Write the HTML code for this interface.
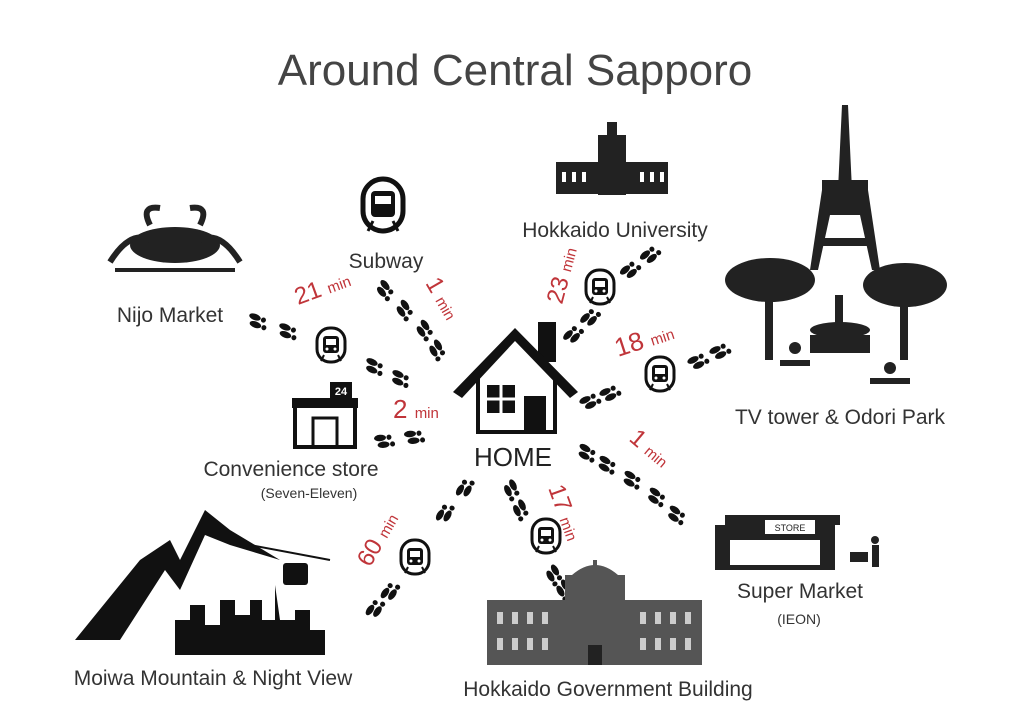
<!DOCTYPE html>
<html><head><meta charset="utf-8"><style>
body{margin:0;background:#fff}
svg text{font-family:"Liberation Sans",sans-serif}
</style></head><body>
<svg width="1024" height="717" viewBox="0 0 1024 717" xmlns="http://www.w3.org/2000/svg">
<defs>
<g id="fp"><ellipse cx="0" cy="0" rx="6" ry="3.2" fill="#111"/><ellipse cx="9" cy="0" rx="2.5" ry="2.6" fill="#111"/><ellipse cx="3" cy="7" rx="6" ry="3.2" fill="#111"/><ellipse cx="12" cy="7" rx="2.5" ry="2.6" fill="#111"/></g>
<g id="rail"><rect x="-14" y="-17" width="28" height="34" rx="13" fill="none" stroke="#111" stroke-width="3"/><rect x="-8" y="-9" width="16" height="17" rx="3" fill="#111"/><rect x="-5" y="-6" width="10" height="6" fill="#fff"/><circle cx="-4" cy="4" r="1.5" fill="#fff"/><circle cx="4" cy="4" r="1.5" fill="#fff"/><path d="M-7 10 L-10 16 M7 10 L10 16" stroke="#111" stroke-width="2"/></g>
</defs>
<text x="515" y="85" font-size="44" fill="#444" text-anchor="middle" font-weight="300">Around Central Sapporo</text>

<!-- house -->
<g>
<rect x="538" y="322" width="18" height="40" fill="#111"/>
<path d="M453 392 L515 328 L578 392 L570 398 L515 341 L462 398 Z" fill="#111"/>
<path d="M478 372 L478 432 L555 432 L555 372" fill="none" stroke="#111" stroke-width="4"/>
<rect x="487" y="385" width="28" height="28" fill="#111"/><path d="M501 385V413M487 399H515" stroke="#fff" stroke-width="3"/>
<rect x="524" y="396" width="22" height="36" fill="#111"/>
</g>
<text x="513" y="466" font-size="26" fill="#222" text-anchor="middle">HOME</text>

<!-- labels -->
<g font-size="21" fill="#333">
<text x="170" y="322" text-anchor="middle">Nijo Market</text>
<text x="386" y="268" text-anchor="middle">Subway</text>
<text x="615" y="237" text-anchor="middle">Hokkaido University</text>
<text x="840" y="424" text-anchor="middle">TV tower &amp; Odori Park</text>
<text x="291" y="476" text-anchor="middle">Convenience store</text>
<text x="800" y="598" text-anchor="middle">Super Market</text>
<text x="213" y="685" text-anchor="middle">Moiwa Mountain &amp; Night View</text>
<text x="608" y="696" text-anchor="middle">Hokkaido Government Building</text>
</g>
<text x="309" y="498" font-size="14" fill="#333" text-anchor="middle">(Seven-Eleven)</text>
<text x="799" y="624" font-size="14" fill="#333" text-anchor="middle">(IEON)</text>

<!-- minutes -->
<g fill="#c0353a">
<text transform="translate(298,305) rotate(-20)" font-size="24">21 <tspan font-size="15">min</tspan></text>
<text transform="translate(425,283) rotate(60)" font-size="24">1 <tspan font-size="15">min</tspan></text>
<text transform="translate(562,305) rotate(-75)" font-size="24">23 <tspan font-size="15">min</tspan></text>
<text transform="translate(618,357) rotate(-18)" font-size="26">18 <tspan font-size="15">min</tspan></text>
<text x="393" y="418" font-size="26">2 <tspan font-size="15">min</tspan></text>
<text transform="translate(628,440) rotate(40)" font-size="24">1 <tspan font-size="15">min</tspan></text>
<text transform="translate(548,488) rotate(70)" font-size="24">17 <tspan font-size="15">min</tspan></text>
<text transform="translate(370,568) rotate(-60)" font-size="24">60 <tspan font-size="15">min</tspan></text>
</g>

<!-- rail icons -->
<use href="#rail" x="331" y="345"/>
<use href="#rail" x="600" y="287"/>
<use href="#rail" x="660" y="374"/>
<use href="#rail" x="546" y="536"/>
<use href="#rail" x="415" y="557"/>

<!-- footprints -->
<g>
<use href="#fp" transform="translate(255,317) rotate(20)"/><use href="#fp" transform="translate(285,327) rotate(20)"/>
<use href="#fp" transform="translate(372,362) rotate(25)"/><use href="#fp" transform="translate(398,374) rotate(25)"/>
<use href="#fp" transform="translate(385,285) rotate(50)"/><use href="#fp" transform="translate(405,305) rotate(55)"/><use href="#fp" transform="translate(425,325) rotate(55)"/><use href="#fp" transform="translate(438,345) rotate(60)"/>
<use href="#fp" transform="translate(380,438) rotate(-5)"/><use href="#fp" transform="translate(410,434) rotate(-5)"/>
<use href="#fp" transform="translate(625,270) rotate(-40)"/><use href="#fp" transform="translate(645,255) rotate(-40)"/>
<use href="#fp" transform="translate(568,335) rotate(-45)"/><use href="#fp" transform="translate(585,318) rotate(-45)"/>
<use href="#fp" transform="translate(585,400) rotate(-25)"/><use href="#fp" transform="translate(605,392) rotate(-25)"/>
<use href="#fp" transform="translate(693,360) rotate(-25)"/><use href="#fp" transform="translate(715,350) rotate(-25)"/>
<use href="#fp" transform="translate(585,448) rotate(30)"/><use href="#fp" transform="translate(605,460) rotate(30)"/><use href="#fp" transform="translate(630,475) rotate(30)"/><use href="#fp" transform="translate(655,492) rotate(35)"/><use href="#fp" transform="translate(675,510) rotate(35)"/>
<use href="#fp" transform="translate(513,485) rotate(65)"/><use href="#fp" transform="translate(522,505) rotate(65)"/>
<use href="#fp" transform="translate(555,570) rotate(60)"/><use href="#fp" transform="translate(565,585) rotate(60)"/>
<use href="#fp" transform="translate(460,490) rotate(-60)"/><use href="#fp" transform="translate(440,515) rotate(-60)"/>
<use href="#fp" transform="translate(370,610) rotate(-55)"/><use href="#fp" transform="translate(385,593) rotate(-55)"/>
</g>

<!-- subway icon -->
<g transform="translate(383,205)"><rect x="-20" y="-26" width="40" height="52" rx="20" fill="none" stroke="#111" stroke-width="5"/><rect x="-12" y="-14" width="24" height="26" rx="4" fill="#111"/><rect x="-8" y="-9" width="16" height="8" fill="#fff"/><path d="M-10 16 L-15 26 M10 16 L15 26" stroke="#111" stroke-width="3"/></g>

<!-- crab -->
<g fill="#222"><ellipse cx="175" cy="245" rx="45" ry="18"/><path d="M110 262 Q130 230 150 240 M240 262 Q220 230 200 240" stroke="#222" stroke-width="6" fill="none"/><path d="M150 225 Q140 205 160 208 M200 225 Q210 205 190 208" stroke="#222" stroke-width="6" fill="none"/><path d="M115 270 L235 270" stroke="#222" stroke-width="4"/></g>

<!-- university -->
<g fill="#222"><rect x="556" y="162" width="112" height="32"/><rect x="598" y="135" width="28" height="60"/><rect x="607" y="122" width="10" height="14"/>
<g fill="#fff"><rect x="562" y="172" width="4" height="10"/><rect x="572" y="172" width="4" height="10"/><rect x="582" y="172" width="4" height="10"/><rect x="640" y="172" width="4" height="10"/><rect x="650" y="172" width="4" height="10"/><rect x="660" y="172" width="4" height="10"/></g></g>

<!-- tv tower and park -->
<g fill="#222">
<path d="M842 105 L848 105 L852 190 L868 190 L880 270 L872 270 L860 215 L830 215 L818 270 L810 270 L822 190 L838 190 Z"/>
<rect x="822" y="180" width="46" height="10"/><rect x="815" y="238" width="60" height="8"/>
<ellipse cx="770" cy="280" rx="45" ry="22"/><rect x="765" y="280" width="8" height="80"/>
<ellipse cx="905" cy="285" rx="42" ry="22"/><rect x="900" y="285" width="8" height="75"/>
<ellipse cx="840" cy="330" rx="30" ry="8"/><rect x="835" y="295" width="8" height="35"/><rect x="810" y="335" width="60" height="18"/>
<rect x="780" y="360" width="30" height="6"/><circle cx="795" cy="348" r="6"/>
<rect x="870" y="378" width="40" height="6"/><circle cx="890" cy="368" r="6"/>
</g>

<!-- convenience store -->
<g><rect x="295" y="405" width="60" height="42" fill="none" stroke="#111" stroke-width="4"/><rect x="292" y="398" width="66" height="10" fill="#111"/><rect x="313" y="418" width="24" height="29" fill="none" stroke="#111" stroke-width="3"/><rect x="330" y="382" width="22" height="16" fill="#111"/><text x="341" y="395" font-size="11" fill="#fff" text-anchor="middle" font-weight="bold">24</text></g>

<!-- supermarket -->
<g fill="#222"><rect x="715" y="525" width="120" height="45"/><path d="M725 515 L840 515 L840 525 L725 525Z"/><rect x="765" y="520" width="50" height="14" fill="#fff"/><text x="790" y="531" font-size="9" text-anchor="middle" fill="#222">STORE</text><rect x="730" y="540" width="90" height="25" fill="#fff"/><circle cx="875" cy="540" r="4"/><rect x="872" y="545" width="7" height="22"/><rect x="850" y="552" width="18" height="10"/></g>

<!-- mountain and night view -->
<g fill="#111">
<path d="M75 640 L140 560 L170 540 L180 560 L205 510 L230 530 L280 560 L230 545 L205 535 L180 590 L165 570 L120 640 Z"/>
<rect x="283" y="563" width="25" height="22" rx="3"/><path d="M250 545 L330 560" stroke="#111" stroke-width="2"/>
<path d="M175 655 L175 620 L190 620 L190 605 L205 605 L205 625 L220 625 L220 600 L235 600 L235 615 L250 615 L250 600 L262 600 L262 620 L275 620 L275 585 L280 620 L295 620 L295 610 L310 610 L310 630 L325 630 L325 655 Z"/>
</g>

<!-- government building -->
<g fill="#555"><rect x="487" y="600" width="215" height="65"/><rect x="565" y="575" width="60" height="30"/><path d="M572 575 Q595 555 618 575Z"/><rect x="593" y="560" width="4" height="12"/>
<g fill="#ccc"><rect x="497" y="612" width="6" height="12"/><rect x="512" y="612" width="6" height="12"/><rect x="527" y="612" width="6" height="12"/><rect x="542" y="612" width="6" height="12"/><rect x="640" y="612" width="6" height="12"/><rect x="655" y="612" width="6" height="12"/><rect x="670" y="612" width="6" height="12"/><rect x="685" y="612" width="6" height="12"/><rect x="497" y="638" width="6" height="12"/><rect x="512" y="638" width="6" height="12"/><rect x="527" y="638" width="6" height="12"/><rect x="542" y="638" width="6" height="12"/><rect x="640" y="638" width="6" height="12"/><rect x="655" y="638" width="6" height="12"/><rect x="670" y="638" width="6" height="12"/><rect x="685" y="638" width="6" height="12"/></g>
<rect x="588" y="645" width="14" height="20" fill="#222"/></g>
</svg>
</body></html>
